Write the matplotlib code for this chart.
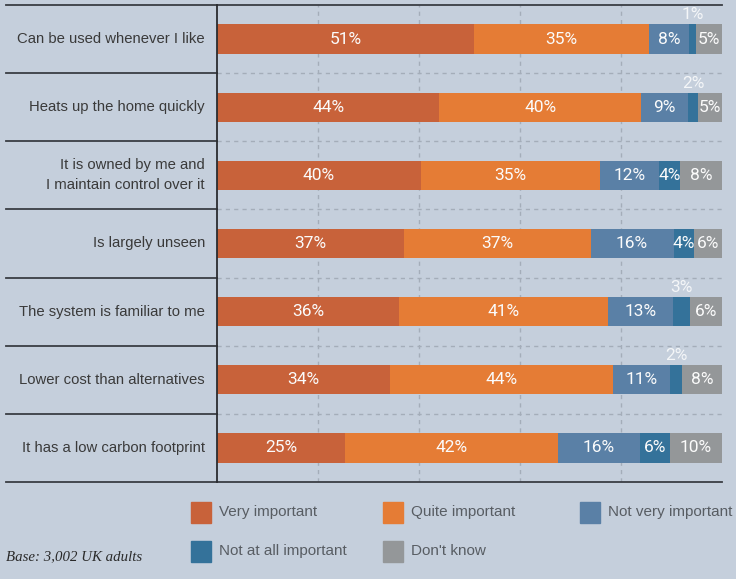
import matplotlib.pyplot as plt
from matplotlib.patches import Rectangle
import numpy as np

plt.rcParams['font.family'] = ['Liberation Sans', 'DejaVu Sans']

statements = [
    "Can be used whenever I like",
    "Heats up the home quickly",
    "It is owned by me and\nI maintain control over it",
    "Is largely unseen",
    "The system is familiar to me",
    "Lower cost than alternatives",
    "It has a low carbon footprint",
]
series = ["Very important", "Quite important", "Not very important",
          "Not at all important", "Don't know"]
# shares in percent (unrounded, each row sums to 100)
very_important = [50.9, 44.0, 40.4, 37.0, 36.0, 34.3, 25.3]
quite_important = [34.6, 40.0, 35.4, 37.0, 41.4, 44.1, 42.2]
not_very_important = [8.0, 9.3, 11.7, 16.4, 12.9, 11.4, 16.3]
not_at_all_important = [1.4, 1.9, 4.2, 4.0, 3.4, 2.3, 5.9]
dont_know = [5.1, 4.8, 8.3, 5.6, 6.3, 7.9, 10.3]

colors = ["#c8623a", "#e57c35", "#5a80a6", "#34729a", "#949799"]
bg = "#c5cfdc"
W, H = 736, 579

fig = plt.figure(figsize=(W / 100, H / 100), dpi=100, facecolor=bg)
ax = fig.add_axes([217 / W, (H - 482) / H, (722 - 217) / W, 477 / H])
ax.set_facecolor(bg)

values = [very_important, quite_important, not_very_important,
          not_at_all_important, dont_know]
n = len(statements)
y = np.arange(n) + 0.5
bar_h = 0.43
num_font = dict(family=["Roboto", "DejaVu Sans"], fontsize=12.5)
left = np.zeros(n)
for vals, color in zip(values, colors):
    vals = np.array(vals, dtype=float)
    ax.barh(y, vals, left=left, height=bar_h, color=color, linewidth=0, zorder=3)
    for yi, l, v in zip(y, left, vals):
        label = f"{v:.0f}%"
        if v >= 3.5:
            ax.text(l + v / 2, yi, label, ha="center", va="center",
                    color="#fbfbfb", zorder=4, **num_font)
        else:
            ax.text(l + v / 2, yi - bar_h / 2 - 0.03, label, ha="center",
                    va="bottom", color="#f4f6f8", zorder=4, **num_font)
    left += vals

ax.set_xlim(0, 100)
ax.set_ylim(n, 0)
ax.set_xticks([])
ax.set_yticks([])
for s in ax.spines.values():
    s.set_visible(False)

# dashed grid inside the plot area
for gx in [20, 40, 60, 80]:
    ax.axvline(gx, color="#a4adb9", lw=1, ls=(0, (3, 3)), zorder=1)
for b in range(1, n):
    ax.axhline(b, color="#a4adb9", lw=1, ls=(0, (3, 3)), zorder=1)

# solid row rules in the label column, plus top and bottom rules
trans = ax.get_yaxis_transform()
x0 = (6 - 217) / (722 - 217)
for b in range(1, n):
    ax.plot([x0, 0], [b, b], color="#3a3d44", lw=1.3, transform=trans, clip_on=False)
for b in [0, n]:
    ax.plot([x0, 1.0], [b, b], color="#3a3d44", lw=1.3, transform=trans, clip_on=False)
ax.plot([0, 0], [0, n], color="#2a2c30", lw=1.3, transform=trans, clip_on=False, zorder=5)

for yi, label in zip(y, statements):
    ax.text(-12 / 505, yi, label, ha="right", va="center", color="#3a3a3a",
            fontsize=10.7, transform=trans, linespacing=1.55)

# legend
legend_pos = [(191, 512), (383, 512), (580, 512), (191, 551), (383, 551)]
for (px, py), name, color in zip(legend_pos, series, colors):
    fig.patches.append(Rectangle((px / W, (H - py - 10.5) / H), 20 / W, 21 / H,
                                 transform=fig.transFigure, color=color))
    fig.text((px + 28) / W, (H - py) / H, name, ha="left", va="center",
             color="#585d63", fontsize=11)

fig.text(6 / W, (H - 557) / H, "Base: 3,002 UK adults", ha="left", va="center",
         fontsize=10.7, style="italic", family=["Liberation Serif", "DejaVu Serif"],
         color="#2a2a2a")

fig.savefig("out.png", dpi=100, facecolor=bg)
